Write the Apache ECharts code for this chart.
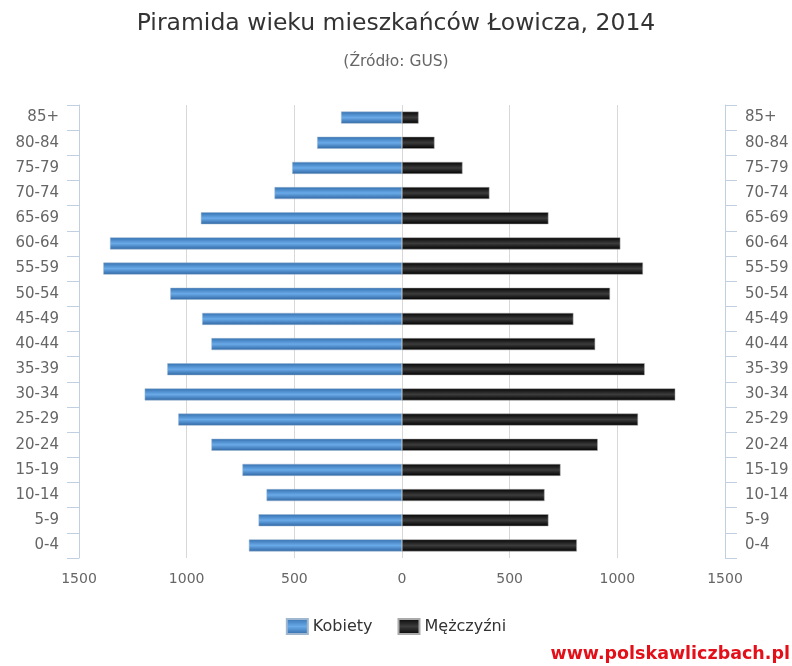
<!DOCTYPE html>
<html>
<head>
<meta charset="utf-8">
<script src="https://cdn.jsdelivr.net/npm/echarts@6/dist/echarts.min.js"></script>
<style>
  html, body { margin: 0; padding: 0; background: #fff; }
  #chart { width: 792px; height: 666px; }
</style>
</head>
<body>
<div id="chart"></div>
<script>
// grupy wieku, od najmłodszej (dół) do najstarszej (góra)
const ageGroups = ['0-4', '5-9', '10-14', '15-19', '20-24', '25-29', '30-34', '35-39', '40-44',
  '45-49', '50-54', '55-59', '60-64', '65-69', '70-74', '75-79', '80-84', '85+'];

const kobiety = [711, 666, 629, 741, 885, 1039, 1195, 1090, 885,
  928, 1076, 1387, 1356, 934, 592, 510, 394, 283];

const mezczyzni = [812, 680, 662, 736, 909, 1096, 1269, 1127, 897,
  796, 966, 1119, 1014, 680, 406, 281, 151, 77];

const xTicks = [-1500, -1000, -500, 0, 500, 1000, 1500];

const chart = echarts.init(document.getElementById('chart'));

const font = 'DejaVu Sans';
const labelColor = '#666';

const blueFill = new echarts.graphic.LinearGradient(0, 0, 0, 1, [
  { offset: 0, color: '#3470b0' },
  { offset: 0.5, color: '#6aaae8' },
  { offset: 1, color: '#2f66a3' }
]);
const blackFill = new echarts.graphic.LinearGradient(0, 0, 0, 1, [
  { offset: 0, color: '#050505' },
  { offset: 0.5, color: '#3c3c3c' },
  { offset: 1, color: '#000' }
]);

const catAxis = (pos) => ({
  type: 'category',
  position: pos,
  data: ageGroups,
  axisLine: { show: true, onZero: false, lineStyle: { color: '#c0d0e0', width: 1 } },
  axisTick: { show: true, inside: false, length: 12, lineStyle: { color: '#c0d0e0' } },
  axisLabel: {
    margin: 20,
    color: labelColor,
    fontFamily: font,
    fontSize: 15,
    align: pos === 'left' ? 'right' : 'left'
  },
  splitLine: { show: false }
});

chart.setOption({
  animation: false,
  backgroundColor: '#fff',
  title: {
    text: 'Piramida wieku mieszkańców Łowicza, 2014',
    subtext: '(Źródło: GUS)',
    left: 'center',
    top: 7,
    itemGap: 18,
    textStyle: { fontFamily: font, fontSize: 23.5, fontWeight: 'normal', color: '#333' },
    subtextStyle: { fontFamily: font, fontSize: 15.5, color: labelColor }
  },
  grid: { left: 79, right: 67, top: 105, bottom: 108 },
  xAxis: {
    type: 'value',
    min: xTicks[0],
    max: xTicks[xTicks.length - 1],
    interval: 500,
    axisLine: { show: false },
    axisTick: { show: false },
    splitLine: { show: true, lineStyle: { color: '#d8d8d8' } },
    axisLabel: {
      margin: 14,
      color: labelColor,
      fontFamily: font,
      fontSize: 14,
      formatter: (v) => String(Math.abs(v))
    }
  },
  yAxis: [catAxis('left'), catAxis('right')],
  legend: {
    top: 613,
    left: 'center',
    icon: 'rect',
    itemWidth: 21,
    itemHeight: 15,
    itemGap: 25,
    textStyle: { fontFamily: font, fontSize: 16, color: '#333' },
    data: ['Kobiety', 'Mężczyźni']
  },
  series: [
    {
      name: 'Kobiety',
      type: 'bar',
      stack: 'pyramid',
      barWidth: 12,
      data: kobiety.map(v => -v),
      itemStyle: { color: blueFill, borderColor: '#9fb8d0', borderWidth: 0.5 }
    },
    {
      name: 'Mężczyźni',
      type: 'bar',
      stack: 'pyramid',
      barWidth: 12,
      data: mezczyzni,
      itemStyle: { color: blackFill, borderColor: '#aaa', borderWidth: 0.5 }
    }
  ],
  graphic: [{
    type: 'text',
    right: 2,
    top: 645,
    style: {
      text: 'www.polskawliczbach.pl',
      fontFamily: font,
      fontSize: 17.5,
      fontWeight: 'bold',
      fill: '#e3101a'
    }
  }]
});
</script>
</body>
</html>
